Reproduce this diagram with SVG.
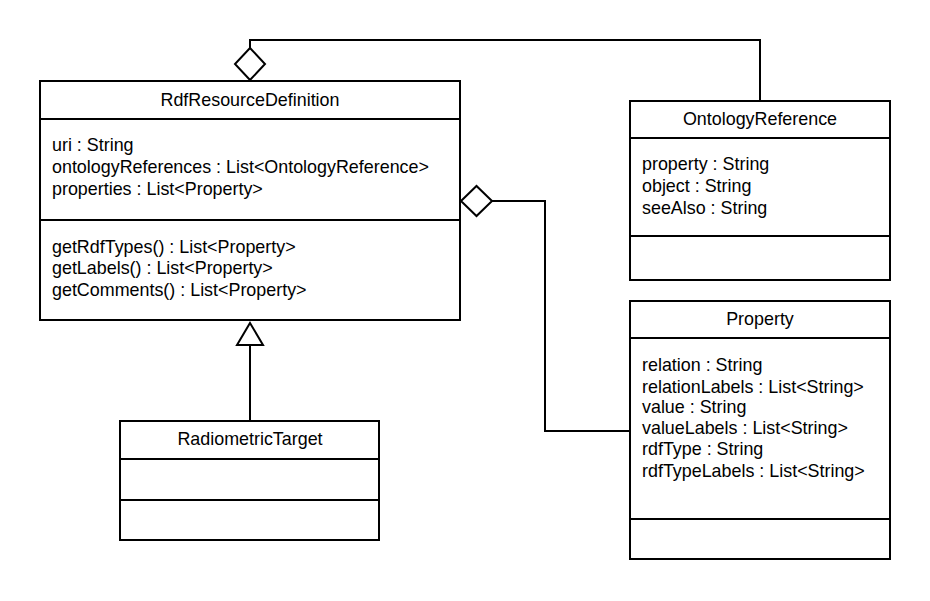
<svg xmlns="http://www.w3.org/2000/svg" width="930" height="601" viewBox="0 0 930 601">
<style>
.box{fill:#fff;stroke:#000;stroke-width:2}
.ln{fill:none;stroke:#000;stroke-width:2}
.dia{fill:#fff;stroke:#000;stroke-width:2}
text{font-family:"Liberation Sans",Arial,sans-serif;font-size:17.9px;fill:#000}
.t{text-anchor:middle}
</style>
<rect width="930" height="601" fill="#fff"/>
<g id="connectors">
<polyline class="ln" points="250,48 250,40 760,40 760,101"/>
<polygon class="dia" points="250,48 265,64 250,80 235,64"/>
<polyline class="ln" points="492,201 545,201 545,431 630,431"/>
<polygon class="dia" points="461,201 476.5,186 492,201 476.5,216"/>
<line class="ln" x1="250" y1="345" x2="250" y2="421"/>
<polygon class="dia" points="250,323 263,345 237,345"/>
</g>
<g id="RdfResourceDefinition">
<rect class="box" x="40" y="81" width="420" height="239"/>
<line class="ln" x1="40" y1="119" x2="460" y2="119"/>
<line class="ln" x1="40" y1="220" x2="460" y2="220"/>
<text class="t" x="250" y="106">RdfResourceDefinition</text>
<text x="52" y="151">uri : String</text>
<text x="52" y="173">ontologyReferences : List&lt;OntologyReference&gt;</text>
<text x="52" y="195">properties : List&lt;Property&gt;</text>
<text x="52" y="253">getRdfTypes() : List&lt;Property&gt;</text>
<text x="52" y="274">getLabels() : List&lt;Property&gt;</text>
<text x="52" y="296">getComments() : List&lt;Property&gt;</text>
</g>
<g id="OntologyReference">
<rect class="box" x="630" y="101" width="260" height="179"/>
<line class="ln" x1="630" y1="138" x2="890" y2="138"/>
<line class="ln" x1="630" y1="236" x2="890" y2="236"/>
<text class="t" x="760" y="125">OntologyReference</text>
<text x="642" y="170">property : String</text>
<text x="642" y="192">object : String</text>
<text x="642" y="214">seeAlso : String</text>
</g>
<g id="Property">
<rect class="box" x="630" y="301" width="260" height="258"/>
<line class="ln" x1="630" y1="338" x2="890" y2="338"/>
<line class="ln" x1="630" y1="519" x2="890" y2="519"/>
<text class="t" x="760" y="325">Property</text>
<text x="642" y="371">relation : String</text>
<text x="642" y="393">relationLabels : List&lt;String&gt;</text>
<text x="642" y="413">value : String</text>
<text x="642" y="434">valueLabels : List&lt;String&gt;</text>
<text x="642" y="455">rdfType : String</text>
<text x="642" y="477">rdfTypeLabels : List&lt;String&gt;</text>
</g>
<g id="RadiometricTarget">
<rect class="box" x="120" y="421" width="259" height="119"/>
<line class="ln" x1="120" y1="459" x2="379" y2="459"/>
<line class="ln" x1="120" y1="500" x2="379" y2="500"/>
<text class="t" x="250" y="445">RadiometricTarget</text>
</g>
</svg>
